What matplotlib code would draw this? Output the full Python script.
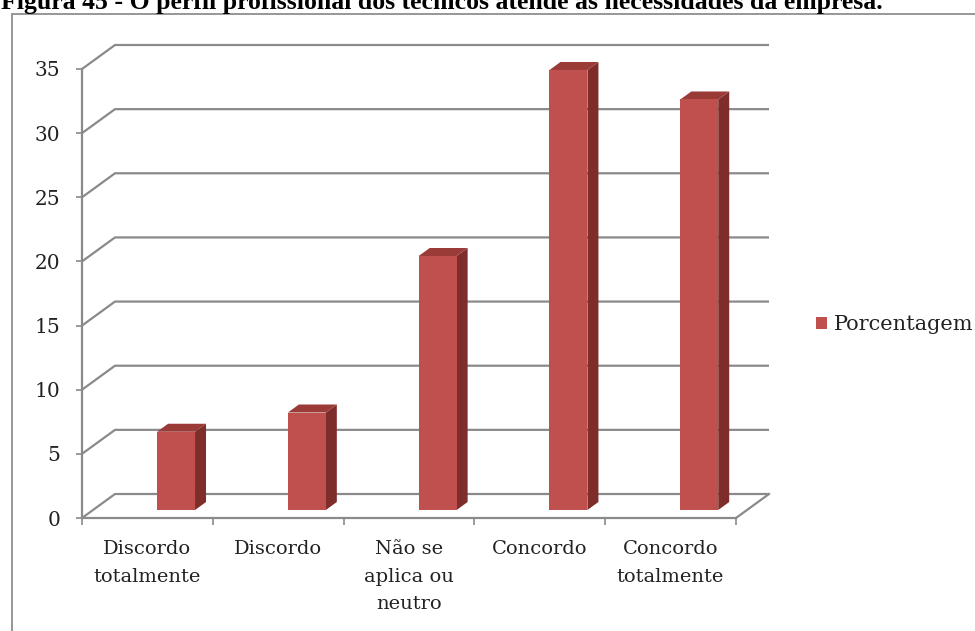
import matplotlib
matplotlib.use("Agg")
import matplotlib.pyplot as plt
from matplotlib.patches import Rectangle, Polygon

# Survey results (percentage of answers per option)
categories = ["Discordo\ntotalmente", "Discordo", "Não se\naplica ou\nneutro",
              "Concordo", "Concordo\ntotalmente"]
percentages = [6.1, 7.6, 19.8, 34.3, 32.0]
y_ticks = [0, 5, 10, 15, 20, 25, 30, 35]
series_name = "Porcentagem"
title = "Figura 45 - O perfil profissional dos técnicos atende as necessidades da empresa."

W, H = 975, 631
GRID = "#8a8a8a"
FRONT = "#C0504D"
SIDE = "#7E2D2B"
TOP = "#9B3B38"
FONT = "DejaVu Serif"

fig = plt.figure(figsize=(W / 100, H / 100), dpi=100)
fig.patch.set_facecolor("white")

# outer chart frame
fig.patches.append(Rectangle((12 / W, -0.05), 1.2, 1.05 - 14 / H,
                             transform=fig.transFigure, fill=False,
                             edgecolor="#8f8f8f", lw=1.3))

fig.text(1 / W, 1 - 9 / H, title, fontsize=18.5, fontweight="bold",
         family="Liberation Serif", va="baseline", ha="left")

ax = fig.add_axes([82 / W, (H - 518) / H, (736 - 82) / W, (518 - 69) / H])
n = len(categories)
ax.set_xlim(0, n)
ax.set_ylim(0, y_ticks[-1])
ax.set_facecolor("none")

# pixel size of one data unit, used for the oblique depth of the 3-D look
p0 = ax.transData.transform((0, 0))
p1 = ax.transData.transform((1, 1))
sx, sy = p1[0] - p0[0], p1[1] - p0[1]
ddx, ddy = 33 / sx, 24 / sy

# left wall diagonals and back-wall gridlines
for v in y_ticks:
    ax.plot([0, ddx, n + ddx], [v, v + ddy, v + ddy], color=GRID, lw=1.6,
            clip_on=False, zorder=1, solid_capstyle="butt")
# floor: right edge diagonal
ax.plot([n, n + ddx], [0, ddy], color=GRID, lw=1.6, clip_on=False, zorder=1)

# spines / ticks
for s in ("top", "right"):
    ax.spines[s].set_visible(False)
for s in ("left", "bottom"):
    ax.spines[s].set_color(GRID)
    ax.spines[s].set_linewidth(1.6)
    ax.spines[s].set_zorder(5)

ax.set_yticks(y_ticks)
ax.set_yticklabels([str(v) for v in y_ticks])
ax.tick_params(axis="y", direction="out", length=4.5, width=1.2, color=GRID,
               pad=11, labelsize=14.5, labelcolor="#222222")
centers = [i + 0.5 for i in range(n)]
ax.set_xticks(centers)
ax.set_xticklabels(categories, linespacing=1.68)
ax.set_xticks(range(n + 1), minor=True)
ax.tick_params(axis="x", which="major", length=0, pad=16, labelsize=14,
               labelcolor="#222222")
ax.tick_params(axis="x", which="minor", direction="out", length=5, width=1.2,
               color=GRID)
for lab in ax.get_xticklabels() + ax.get_yticklabels():
    lab.set_family(FONT)
for lab in ax.get_xticklabels():
    lab.set_verticalalignment("top")
    lab.set_multialignment("center")

# bars: front face at 1/3 depth, back face at 2/3 depth
a, b = ddx / 3, ddy / 3
offset, width = 0.49, 0.29
bars = ax.bar([i + offset + a for i in range(n)], percentages, width=width,
              bottom=b, align="edge", color=FRONT, linewidth=0, zorder=4,
              label=series_name)
for i, v in enumerate(percentages):
    x0 = i + offset
    xr = x0 + width
    side = Polygon([(xr + a, b), (xr + 2 * a, 2 * b), (xr + 2 * a, v + 2 * b),
                    (xr + a, v + b)], closed=True, facecolor=SIDE,
                   edgecolor="none", zorder=3, clip_on=False)
    top = Polygon([(x0 + a, v + b), (xr + a, v + b), (xr + 2 * a, v + 2 * b),
                   (x0 + 2 * a, v + 2 * b)], closed=True, facecolor=TOP,
                  edgecolor="none", zorder=3, clip_on=False)
    ax.add_patch(side)
    ax.add_patch(top)
for p in bars:
    p.set_clip_on(False)

leg = ax.legend(handles=[bars], labels=[series_name], loc="center left",
                bbox_to_anchor=(816 / W, 1 - 325 / H),
                bbox_transform=fig.transFigure, frameon=False,
                handlelength=0.55, handleheight=0.55, handletextpad=0.3,
                borderpad=0, borderaxespad=0,
                prop={"family": FONT, "size": 15})
for t in leg.get_texts():
    t.set_color("#222222")

fig.savefig("out.png", dpi=100)
